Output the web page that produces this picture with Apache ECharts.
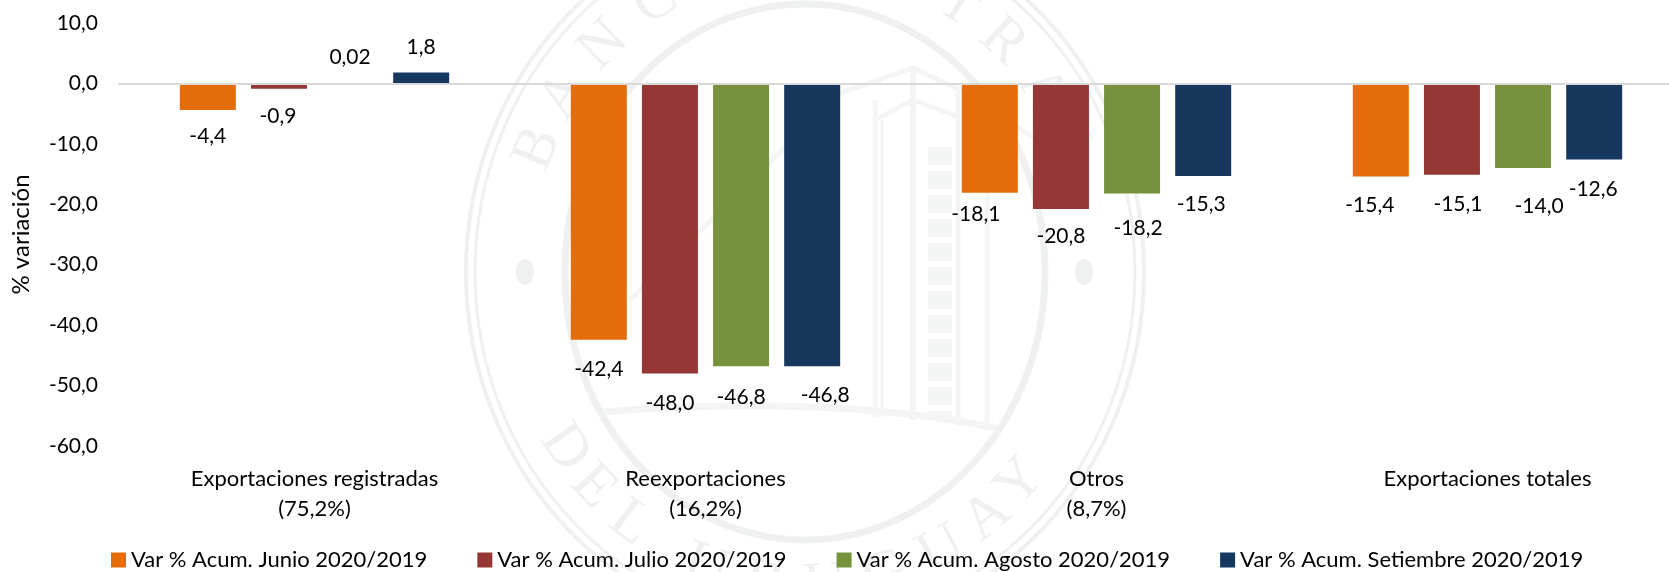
<!DOCTYPE html>
<html><head><meta charset="utf-8">
<script src="https://cdn.jsdelivr.net/npm/echarts@6/dist/echarts.min.js"></script>
<style>html,body{margin:0;padding:0;background:#fff}#c{width:1669px;height:572px}</style>
</head><body><div id="c"></div>
<script>
const categories = ['Exportaciones registradas\n(75,2%)','Reexportaciones\n(16,2%)','Otros\n(8,7%)','Exportaciones totales'];
const junio = [-4.4,-42.4,-18.1,-15.4];
const julio = [-0.9,-48.0,-20.8,-15.1];
const agosto = [0.02,-46.8,-18.2,-14.0];
const setiembre = [1.8,-46.8,-15.3,-12.6];
const names = ['Var % Acum. Junio 2020/2019','Var % Acum. Julio 2020/2019','Var % Acum. Agosto 2020/2019','Var % Acum. Setiembre 2020/2019'];
const colors = ['#E46C0A','#953735','#76923C','#17375E'];
// hand-placed data labels of the original (one row per series, dx/dy per category)
const labelNudges = [
  [[0,2],[0,5],[-14,-3],[-11,4]],
  [[-1,3],[0,5],[0,3],[6,5]],
  [[0,-2],[0,7],[6,10],[16,14]],
  [[0,-1],[13,5],[-2,4],[-1,5]]
];
const FONT = '"Gill Sans MT","Lato","Open Sans",sans-serif';
const fmt = v => v === 0.02 ? '0,02' : v.toFixed(1).replace('.', ',');
const mk = (i, d) => ({
  name: names[i], type: 'bar', barWidth: 56, barGap: '27%',
  data: d.map((v, j) => ({value: v, label: {offset: labelNudges[i][j]}})),
  itemStyle: {color: colors[i]},
  label: {show: true, position: 'outside', distance: 14, color: '#000', fontSize: 21, fontFamily: FONT, formatter: p => fmt(p.value)}
});

// faint seal watermark behind the plot
const WM = '#EEF1F0', WM2 = '#F3F5F4';
const CX = 805, CY = 272;
const wmRing = (rx, ry, w) => ({type: 'ellipse', silent: true, z: -1, shape: {cx: CX, cy: CY, rx, ry}, style: {fill: 'none', stroke: WM, lineWidth: w}});
const wmLine = (pts, w) => ({type: 'polyline', silent: true, z: -1, shape: {points: pts}, style: {fill: 'none', stroke: WM2, lineWidth: w}});
const wmLetter = (ch, deg, bottom) => {
  const t = deg * Math.PI / 180;
  const rot = (bottom ? -(deg - 90) : -(deg + 90)) * Math.PI / 180;
  return {type: 'text', silent: true, z: -1, x: CX + 290 * Math.cos(t), y: CY + 315 * Math.sin(t), rotation: rot,
    style: {text: ch, font: '60px "Liberation Serif",serif', fill: WM, textAlign: 'center', textVerticalAlign: 'middle'}};
};
const topLetters = [['B',-157],['A',-146],['N',-134],['C',-121],['O',-108],['C',-94],['E',-82],['N',-70],['T',-58],['R',-47],['A',-35],['L',-23]];
const botLetters = [['D',146],['E',137],['L',127],['U',110],['R',98],['U',86],['G',74],['U',62],['A',51],['Y',42]];
const watermark = [
  wmRing(339, 360, 4), wmRing(330, 351, 3), wmRing(240, 268, 7),
  {type: 'ellipse', silent: true, z: -1, shape: {cx: 525, cy: 272, rx: 9, ry: 13}, style: {fill: WM}},
  {type: 'ellipse', silent: true, z: -1, shape: {cx: 1084, cy: 272, rx: 9, ry: 13}, style: {fill: WM}},
  wmLine([[630,300],[840,93],[913,68],[960,90],[1050,148]], 5),
  wmLine([[875,120],[913,100],[960,117]], 5),
  wmLine([[875,100],[875,417]], 5), wmLine([[882,120],[882,417]], 3), wmLine([[913,68],[913,420]], 6),
  wmLine([[958,90],[958,425]], 5), wmLine([[987,110],[987,428]], 5),
  {type: 'line', silent: true, z: -1, shape: {x1: 940, y1: 147, x2: 940, y2: 417}, style: {stroke: WM2, lineWidth: 24, lineDash: [18, 6]}},
  {type: 'bezierCurve', silent: true, z: -1, shape: {x1: 603, y1: 412, cpx1: 720, cpy1: 402, cpx2: 870, cpy2: 402, x2: 996, y2: 428}, style: {fill: 'none', stroke: WM2, lineWidth: 7}},
  ...topLetters.map(([c, a]) => wmLetter(c, a, false)),
  ...botLetters.map(([c, a]) => wmLetter(c, a, true))
];

const chart = echarts.init(document.getElementById('c'));
chart.setOption({
  animation: false,
  graphic: {elements: watermark},
  grid: {left: 119, right: -14, top: 23, bottom: 126, containLabel: false, outerBoundsMode: 'none'},
  legend: {top: 549, left: 111, padding: 0, itemWidth: 15, itemHeight: 15, itemGap: 50, icon: 'rect',
    textStyle: {fontSize: 22, fontFamily: FONT, color: '#000'}, data: names},
  xAxis: {type: 'category', data: categories, z: 5,
    axisLine: {onZero: true, lineStyle: {color: '#D9D9D9', width: 2}}, axisTick: {show: false},
    axisLabel: {fontSize: 22, fontFamily: FONT, color: '#000', lineHeight: 30, margin: 18, interval: 0}},
  yAxis: {type: 'value', min: -60, max: 10, interval: 10, name: '% variación', nameLocation: 'middle', nameGap: 86, nameRotate: 90,
    nameTextStyle: {fontSize: 24, fontFamily: FONT, color: '#000'},
    axisLine: {show: false}, axisTick: {show: false}, splitLine: {show: false},
    axisLabel: {fontSize: 21, fontFamily: FONT, color: '#000', margin: 21, formatter: v => v.toFixed(1).replace('.', ',')}},
  series: [mk(0,junio),mk(1,julio),mk(2,agosto),mk(3,setiembre)]
});
</script></body></html>
